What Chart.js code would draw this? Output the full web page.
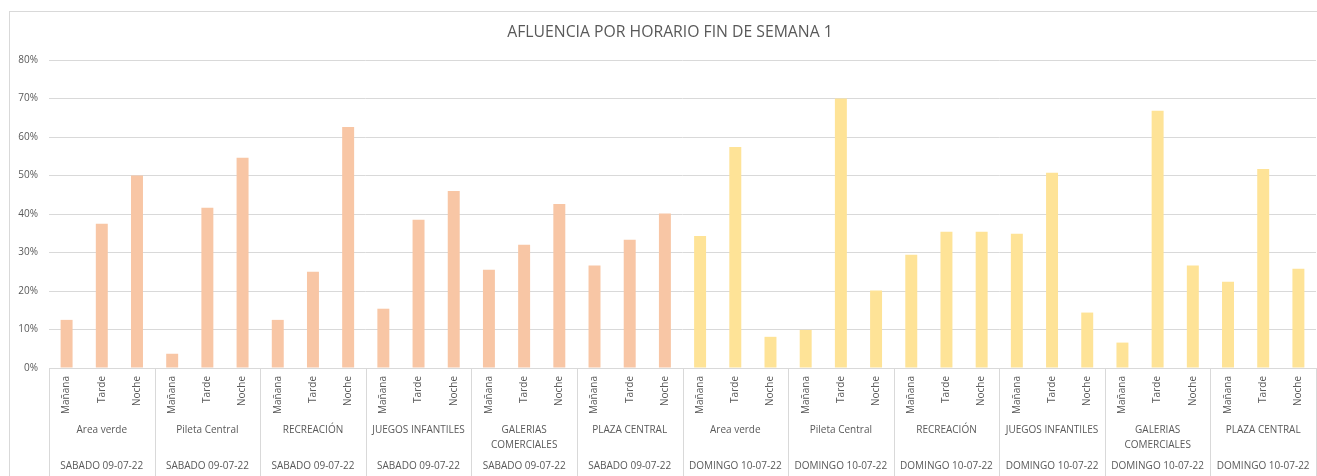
<!DOCTYPE html>
<html lang="es">
<head>
<meta charset="utf-8">
<title>Afluencia por horario</title>
<script src="https://cdn.jsdelivr.net/npm/chart.js@4.4.1/dist/chart.umd.min.js"></script>
<style>
  html, body { margin: 0; padding: 0; background: #fff; overflow: hidden; }
  #frame {
    position: absolute;
    left: 9px;
    top: 11px;
    width: 1320px;
    height: 480px;
    border: 1px solid #d9d9d9;
  }
  #chart { display: block; }
</style>
</head>
<body>
<div id="frame"><canvas id="chart" width="1320" height="480"></canvas></div>
<script>
const titleText = "AFLUENCIA POR HORARIO FIN DE SEMANA 1";
const timeSlots = ["Mañana", "Tarde", "Noche"];
// multi-line names are split the way they wrap under the axis
const places = [
  ["Area verde"],
  ["Pileta Central"],
  ["RECREACIÓN"],
  ["JUEGOS INFANTILES"],
  ["GALERIAS", "COMERCIALES"],
  ["PLAZA CENTRAL"],
];
const days = ["SABADO 09-07-22", "DOMINGO 10-07-22"];
const dayColors = ["#f8c6a5", "#fee397"];

// % of visitors, per place in order Mañana / Tarde / Noche
const sabado = [
  12.5, 37.5, 50.0,
  3.7, 41.6, 54.6,
  12.5, 25.0, 62.6,
  15.4, 38.5, 46.0,
  25.5, 32.0, 42.6,
  26.6, 33.3, 40.1,
];
const domingo = [
  34.3, 57.4, 8.1,
  9.9, 70.0, 20.1,
  29.4, 35.4, 35.4,
  34.9, 50.7, 14.4,
  6.6, 66.8, 26.6,
  22.4, 51.7, 25.8,
];
const yTicks = [0, 10, 20, 30, 40, 50, 60, 70, 80];

const FONT = '"Open Sans", "DejaVu Sans", sans-serif';
const TEXT = "#595959";
const LINE = "#d9d9d9";

// flatten day -> place -> time slot into one category list
const labels = [];
const values = [];
const colors = [];
const groups = [];
[sabado, domingo].forEach((series, d) => {
  places.forEach((place, p) => {
    groups.push({ place, day: days[d] });
    timeSlots.forEach((slot, s) => {
      labels.push(slot);
      values.push(series[p * 3 + s]);
      colors.push(dayColors[d]);
    });
  });
});

// title, group separators and the two outer label rows
const axisDecor = {
  id: "axisDecor",
  afterDraw(chart) {
    const { ctx, chartArea } = chart;
    const x = chart.scales.x;
    const catW = (x.right - x.left) / labels.length;
    ctx.save();

    ctx.fillStyle = TEXT;
    ctx.font = `15.75px ${FONT}`;
    ctx.textAlign = "center";
    ctx.textBaseline = "middle";
    ctx.fillText(titleText, 660, 21);

    ctx.strokeStyle = LINE;
    ctx.lineWidth = 1;
    for (let g = 0; g <= groups.length; g++) {
      const px = Math.round(x.left + g * catW * 3) + 0.5;
      ctx.beginPath();
      ctx.moveTo(px, chartArea.bottom);
      ctx.lineTo(px, chart.height);
      ctx.stroke();
    }

    ctx.font = `10px ${FONT}`;
    groups.forEach((grp, g) => {
      const cx = x.left + (g * 3 + 1.5) * catW;
      grp.place.forEach((line, i) => ctx.fillText(line, cx, 418 + i * 15));
      ctx.fillText(grp.day, cx, 454.5);
    });
    ctx.restore();
  },
};

function build() {
  new Chart(document.getElementById("chart"), {
    type: "bar",
    data: {
      labels,
      datasets: [{
        label: titleText,
        data: values,
        backgroundColor: colors,
        borderWidth: 0,
        categoryPercentage: 1,
        barPercentage: 0.34,
      }],
    },
    options: {
      responsive: false,
      animation: false,
      layout: { padding: { top: 48, right: 14, left: 0, bottom: 0 } },
      plugins: {
        legend: { display: false },
        title: { display: false },
        tooltip: { enabled: false },
      },
      scales: {
        x: {
          grid: { display: false, drawTicks: false },
          border: { display: true, color: LINE },
          ticks: {
            color: TEXT,
            font: { family: FONT, size: 10 },
            minRotation: 90,
            maxRotation: 90,
            autoSkip: false,
            padding: 8,
          },
          afterFit(scale) { scale.height = 124; },
        },
        y: {
          min: 0,
          max: 80,
          afterBuildTicks(scale) { scale.ticks = yTicks.map((v) => ({ value: v })); },
          grid: { color: LINE, drawTicks: false },
          border: { display: false },
          ticks: {
            color: TEXT,
            font: { family: FONT, size: 10 },
            padding: 11,
            callback: (v) => v + "%",
          },
          afterFit(scale) { scale.width = 39; },
        },
      },
    },
    plugins: [axisDecor],
  });
}

document.fonts.load(`10px ${FONT}`).then(build, build);
</script>
</body>
</html>
